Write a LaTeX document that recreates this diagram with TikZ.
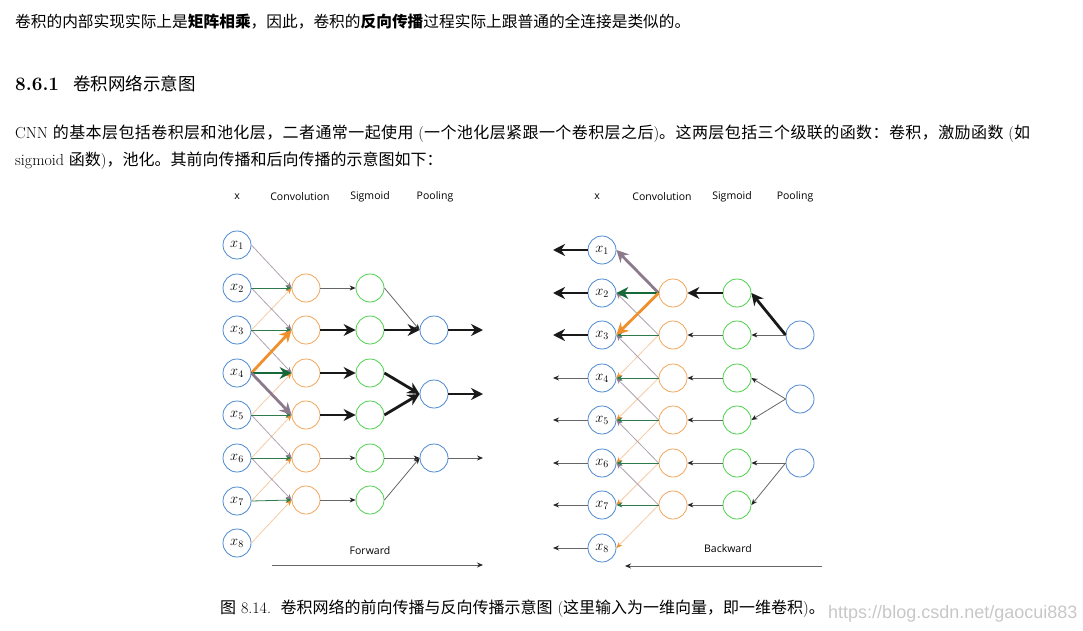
\documentclass[tikz,border=0pt]{standalone}
\usepackage{fontspec}
\newfontfamily\cjk{Noto Sans CJK SC}
\newfontfamily\cjkw{Noto Sans CJK SC}[LetterSpace=2.6]
\newfontfamily\dsans{Open Sans}
\newfontfamily\wmfont{Liberation Sans}
\usetikzlibrary{arrows.meta}
\definecolor{nblue}{HTML}{4A88D0}
\definecolor{norange}{HTML}{F2A55A}
\definecolor{ngreen}{HTML}{4CD04C}
\definecolor{tpurple}{HTML}{B0A2B0}
\definecolor{tgreen}{HTML}{2E7A4C}
\definecolor{torange}{HTML}{F6CBA4}
\definecolor{kpurple}{HTML}{8C7A8C}
\definecolor{kgreen}{HTML}{17693A}
\definecolor{korange}{HTML}{F0902C}
\newcommand\xlab[1]{\fontsize{14}{16}\selectfont$x_{#1}$}
\tikzset{
  nd/.style={circle, minimum size=28pt, inner sep=0pt, line width=0.8pt},
  inp/.style={nd, draw=nblue},
  cv/.style={nd, draw=norange},
  sg/.style={nd, draw=ngreen},
  pl/.style={nd, draw=nblue},
  thinarr/.style={draw=black!60, line width=0.8pt, -{Stealth[length=6pt,width=5pt,color=black!85]}},
  thickarr/.style={draw=black!90, line width=2.8pt, -{Stealth[length=12pt,width=12pt]}},
  wp/.style={draw=tpurple, line width=0.8pt, -{Stealth[length=6pt,width=5pt,color=kpurple]}},
  wg/.style={draw=tgreen, line width=0.8pt, -{Stealth[length=6pt,width=5pt,color=tgreen]}},
  wo/.style={draw=torange, line width=0.8pt, -{Stealth[length=6pt,width=5pt,color=korange]}},
  kp/.style={draw=kpurple, line width=2.8pt, -{Stealth[length=12pt,width=12pt]}},
  kg/.style={draw=kgreen, line width=2.8pt, -{Stealth[length=12pt,width=12pt]}},
  ko/.style={draw=korange, line width=2.8pt, -{Stealth[length=12pt,width=12pt]}},
  hdr/.style={font=\dsans\fontsize{10.5}{12}\selectfont, inner sep=0pt},
  txt/.style={anchor=base west, inner sep=0pt, font=\fontsize{15.7}{18}\selectfont},
}
\begin{document}
\begin{tikzpicture}[x=1pt,y=-1pt]
\useasboundingbox (0,0) rectangle (1083,631);
% ---------- text ----------
\node[txt] (t1) at (15,28) {\cjk 卷积的内部实现实际上是\textbf{矩阵相乘}，因此，卷积的\textbf{反向传播}过程实际上跟普通的全连接是类似的。};
\node[anchor=base west, inner sep=0pt, font=\fontsize{19}{21}\selectfont\bfseries] (h1) at (15,91) {8.6.1};
\node[anchor=base west, inner sep=0pt, font=\fontsize{17.5}{20}\selectfont\cjk] (h2) at (73,91) {卷积网络示意图};
\node[txt, font=\fontsize{16}{18}\selectfont] (p1) at (15,139) {CNN {\cjkw 的基本层包括卷积层和池化层，二者通常一起使用} ({\cjkw 一个池化层紧跟一个卷积层之后}){\cjkw 。这两层包括三个级联的函数：卷积，激励函数} ({\cjk 如}};
\node[txt, font=\fontsize{16}{18}\selectfont] (p2) at (15,166) {sigmoid {\cjk 函数}){\cjk ，池化。其前向传播和后向传播的示意图如下：}};
\node[txt, font=\fontsize{16}{18}\selectfont] (cap) at (220,613) {{\cjk 图} 8.14.\ \ {\cjk 卷积网络的前向传播与反向传播示意图} ({\cjk 这里输入为一维向量，即一维卷积}){\cjk 。}};
\node[anchor=base west, inner sep=0pt, text=black!22, font=\wmfont\fontsize{18}{20}\selectfont] (wm) at (828,618) {https://blog.csdn.net/gaocui883};
% ---------- forward ----------
\node[hdr] (fh1) at (237,197) {x};
\node[hdr] (fh2) at (300,197) {Convolution};
\node[hdr] (fh3) at (370,197) {Sigmoid};
\node[hdr] (fh4) at (435,197) {Pooling};
\foreach \i/\y in {1/245,2/288,3/330,4/373,5/415,6/458,7/501,8/543}
  \node[inp] (a\i) at (237,\y) {\xlab{\i}};
\foreach \i/\y in {2/288,3/330,4/373,5/415,6/458,7/500} {
  \node[cv] (c\i) at (306,\y) {};
  \node[sg] (s\i) at (370,\y) {};
}
\node[pl] (p1n) at (434,330) {};
\node[pl] (p2n) at (434,394) {};
\node[pl] (p3n) at (434,458) {};
\coordinate (fo1) at (483,330);
\coordinate (fo2) at (483,394);
\coordinate (fo3) at (483,458);
% conv inputs
\foreach \a/\c in {3/2,5/4,6/5,7/6,8/7} \draw[wo] (a\a.east) -- (c\c.west);
\foreach \a/\c in {1/2,2/3,3/4,5/6,6/7} \draw[wp] (a\a.east) -- (c\c.west);
\foreach \a in {2,3,5,6,7} \draw[wg] (a\a.east) -- (c\a.west);
\draw[ko] (a4.east) -- (c3.west);
\draw[kg] (a4.east) -- (c4.west);
\draw[kp] (a4.east) -- (c5.west);
% conv -> sigmoid
\foreach \i in {2,6,7} \draw[thinarr] (c\i.east) -- (s\i.west);
\foreach \i in {3,4,5} \draw[thickarr] (c\i.east) -- (s\i.west);
% sigmoid -> pooling
\draw[thinarr] (s2.east) -- (p1n.west);
\draw[thickarr] (s3.east) -- (p1n.west);
\draw[thickarr] (s4.east) -- (p2n.west);
\draw[thickarr] (s5.east) -- (p2n.west);
\draw[thinarr] (s6.east) -- (p3n.west);
\draw[thinarr] (s7.east) -- (p3n.west);
% outputs
\draw[thickarr] (p1n.east) -- (fo1);
\draw[thickarr] (p2n.east) -- (fo2);
\draw[thinarr] (p3n.east) -- (fo3);
\node[hdr] (fwd) at (370,551) {Forward};
\coordinate (fa1) at (272,565);
\coordinate (fa2) at (483,565);
\draw[thinarr] (fa1) -- (fa2);
% ---------- backward ----------
\node[hdr] (bh1) at (597,197) {x};
\node[hdr] (bh2) at (662,197) {Convolution};
\node[hdr] (bh3) at (732,197) {Sigmoid};
\node[hdr] (bh4) at (795,197) {Pooling};
\foreach \i/\y in {1/250,2/293,3/335,4/378,5/420,6/463,7/505,8/548}
  \node[inp] (b\i) at (602,\y) {\xlab{\i}};
\foreach \i/\y in {2/293,3/335,4/378,5/420,6/463,7/505} {
  \node[cv] (d\i) at (673,\y) {};
  \node[sg] (e\i) at (737,\y) {};
}
\node[pl] (q1) at (800,335) {};
\node[pl] (q2) at (800,399) {};
\node[pl] (q3) at (800,463) {};
% conv -> x
\foreach \c/\a in {3/4,4/5,5/6,6/7,7/8} \draw[wo] (d\c.west) -- (b\a.east);
\foreach \c/\a in {3/2,4/3,5/4,6/5,7/6} \draw[wp] (d\c.west) -- (b\a.east);
\foreach \c in {3,4,5,6,7} \draw[wg] (d\c.west) -- (b\c.east);
\draw[kp] (d2.west) -- (b1.east);
\draw[kg] (d2.west) -- (b2.east);
\draw[ko] (d2.west) -- (b3.east);
% sigmoid -> conv
\draw[thickarr] (e2.west) -- (d2.east);
\foreach \i in {3,4,5,6,7} \draw[thinarr] (e\i.west) -- (d\i.east);
% pooling -> sigmoid
\draw[thickarr] (q1.west) -- (e2.east);
\draw[thinarr] (q1.west) -- (e3.east);
\draw[thinarr] (q2.west) -- (e4.east);
\draw[thinarr] (q2.west) -- (e5.east);
\draw[thinarr] (q3.west) -- (e6.east);
\draw[thinarr] (q3.west) -- (e7.east);
% x outputs
\foreach \i/\y in {1/250,2/293,3/335,4/378,5/420,6/463,7/505,8/548}
  \coordinate (bo\i) at (553,\y);
\foreach \i in {1,2,3} \draw[thickarr] (b\i.west) -- (bo\i);
\foreach \i in {4,5,6,7,8} \draw[thinarr] (b\i.west) -- (bo\i);
\node[hdr] (bwd) at (728,549) {Backward};
\coordinate (ba1) at (822,566);
\coordinate (ba2) at (625,566);
\draw[thinarr] (ba1) -- (ba2);
\end{tikzpicture}
\end{document}
